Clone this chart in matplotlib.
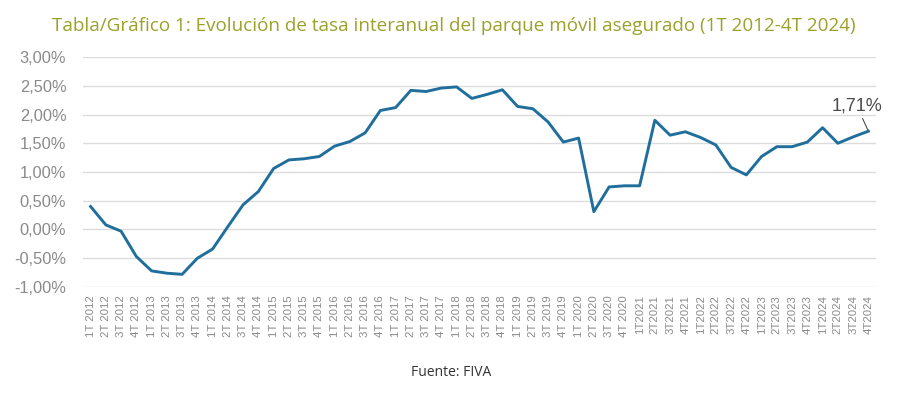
import matplotlib
matplotlib.use("Agg")
import matplotlib.pyplot as plt
from matplotlib.ticker import FuncFormatter

# ── Data ──────────────────────────────────────────────────────────────────
years = list(range(2012, 2025))
quarters = [f"{q}T {y}" if y < 2021 else f"{q}T{y}" for y in years for q in range(1, 5)]

tasa = [
    0.40, 0.08, -0.03, -0.47,    # 2012
    -0.72, -0.76, -0.78, -0.50,  # 2013
    -0.34, 0.05, 0.43, 0.66,     # 2014
    1.06, 1.21, 1.23, 1.27,      # 2015
    1.45, 1.53, 1.68, 2.07,      # 2016
    2.12, 2.42, 2.40, 2.46,      # 2017
    2.48, 2.28, 2.35, 2.43,      # 2018
    2.14, 2.10, 1.87, 1.52,      # 2019
    1.59, 0.31, 0.74, 0.76,      # 2020
    0.76, 1.90, 1.64, 1.70,      # 2021
    1.60, 1.47, 1.08, 0.95,      # 2022
    1.27, 1.44, 1.44, 1.52,      # 2023
    1.77, 1.50, 1.61, 1.71,      # 2024
]

y_ticks = [-1.0, -0.5, 0.0, 0.5, 1.0, 1.5, 2.0, 2.5, 3.0]

TITLE = "Tabla/Gráfico 1: Evolución de tasa interanual del parque móvil asegurado (1T 2012-4T 2024)"
SOURCE = "Fuente: FIVA"

# ── Styling ───────────────────────────────────────────────────────────────
LINE_COLOR = "#1f6e9c"
TITLE_COLOR = "#9ba12a"
TICK_COLOR = "#8a8a8a"
GRID_COLOR = "#dcdcdc"

plt.rcParams["font.family"] = ["Liberation Sans", "DejaVu Sans"]

fig = plt.figure(figsize=(9, 3.97), dpi=100)
ax = fig.add_axes([0.0922, 0.2771, 0.8811, 0.5793])

x = list(range(len(tasa)))
ax.plot(x, tasa, color=LINE_COLOR, lw=2.1, solid_joinstyle="round")

ax.set_xlim(-0.5, len(tasa) - 0.5)
ax.set_ylim(-1.0, 3.0)
ax.set_yticks(y_ticks)
ax.yaxis.set_major_formatter(
    FuncFormatter(lambda v, _: f"{v:.2f}%".replace(".", ",")))
ax.set_xticks(x)
ax.set_xticklabels(quarters, rotation=90, fontsize=8.2, color=TICK_COLOR)
ax.tick_params(axis="y", labelsize=11.8, labelcolor=TICK_COLOR, length=0, pad=12)
ax.tick_params(axis="x", length=0, pad=6)

ax.grid(axis="y", color=GRID_COLOR, lw=1)
ax.set_axisbelow(True)
for s in ax.spines.values():
    s.set_visible(False)

# Last value label
ax.annotate(f"{tasa[-1]:.2f}%".replace(".", ","),
            xy=(x[-1], tasa[-1]), xytext=(x[-1] - 0.75, 2.0),
            ha="center", va="bottom", fontsize=13, color="#4a4a4a",
            arrowprops=dict(arrowstyle="-", color="#4a4a4a", lw=0.8,
                            shrinkA=1, shrinkB=1))

fig.text(52 / 900, 1 - 30.7 / 397, TITLE, fontsize=13.6, color=TITLE_COLOR,
         family=["Open Sans", "DejaVu Sans"], ha="left", va="baseline")
fig.text(451.5 / 900, 1 - 373 / 397, SOURCE, fontsize=10, color="#333333",
         family=["Open Sans", "DejaVu Sans"], ha="center", va="center")

fig.savefig("out.png", dpi=100)
plt.close(fig)
